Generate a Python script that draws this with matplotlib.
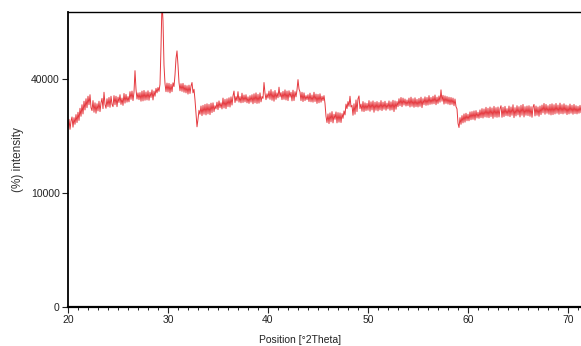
import matplotlib
matplotlib.use("Agg")
import matplotlib.pyplot as plt
from matplotlib.ticker import FixedLocator, MultipleLocator
import numpy as np

plt.rcParams['font.family'] = ['Liberation Sans', 'DejaVu Sans']

# XRD scan, 0.1 deg steps from 20.0 to 71.3 (counts)
two_theta_start = 20.0
two_theta_step = 0.1
counts = [
    24800, 27100, 24300, 26600, 27800, 24900, 27600, 25700, 28500, 26200,  # 20
    29200, 26800, 30400, 28000, 31500, 28700, 32600, 29900, 33400, 30600,  # 21
    34200, 31500, 34700, 30600, 29700, 32800, 29200, 32100, 28900, 31800,  # 22
    29600, 32600, 29400, 32100, 33500, 30300, 35500, 31600, 30400, 33400,  # 23
    30900, 33800, 30700, 34200, 31600, 30900, 34400, 31500, 34200, 30900,  # 24
    33900, 32200, 34700, 31600, 33600, 31300, 35100, 32000, 34800, 32300,  # 25
    34100, 32400, 35700, 33200, 35900, 32800, 35600, 43000, 36500, 33300,  # 26
    35300, 33100, 35400, 32600, 35900, 32700, 36100, 32900, 35600, 33000,  # 27
    36000, 32900, 35500, 33800, 36300, 33000, 35900, 34200, 36800, 35300,  # 28
    37100, 35800, 38200, 52000, 72000, 63000, 45000, 38400, 35700, 38600,  # 29
    35600, 38500, 35300, 38200, 35700, 38700, 37400, 41500, 47500, 50500,  # 30
    45000, 38800, 36000, 38400, 35800, 38500, 35500, 37900, 35300, 37700,  # 31
    34900, 37900, 35100, 37600, 38800, 35300, 36500, 33000, 29000, 25000,  # 32
    27200, 29800, 28600, 31100, 28200, 31300, 28600, 31600, 28400, 31800,  # 33
    28700, 31600, 28500, 32000, 29100, 32100, 29400, 31200, 30200, 32300,  # 34
    30000, 32700, 30600, 32100, 30200, 33600, 30500, 33200, 30300, 33400,  # 35
    30900, 33700, 30800, 34000, 31400, 34300, 35900, 32200, 34100, 32700,  # 36
    35700, 32300, 34100, 32100, 35200, 32200, 34600, 32400, 34700, 32100,  # 37
    34000, 31900, 34400, 32300, 34700, 31800, 35000, 32100, 35300, 31900,  # 38
    34800, 32000, 35300, 32400, 34100, 33500, 38800, 35200, 33100, 35000,  # 39
    33600, 35900, 33200, 36400, 32900, 35700, 32600, 36100, 33200, 35300,  # 40
    33700, 37200, 34000, 35400, 33100, 35800, 33200, 36300, 33000, 35900,  # 41
    32800, 36000, 33900, 35500, 32700, 36200, 32800, 35700, 34000, 36300,  # 42
    39800, 36600, 35600, 32800, 35500, 32500, 35300, 32800, 34400, 33100,  # 43
    34700, 32500, 35200, 32400, 34600, 32300, 35500, 32500, 34900, 31900,  # 44
    34800, 32100, 35000, 32300, 34200, 32800, 34400, 31900, 28000, 26200,  # 45
    28700, 25900, 29000, 26400, 29400, 26100, 28600, 27100, 29300, 26100,  # 46
    29100, 26300, 29000, 26200, 28800, 27400, 29600, 28400, 31700, 30300,  # 47
    32500, 31000, 34200, 30800, 31300, 28300, 31800, 28600, 33000, 29400,  # 48
    33400, 34300, 30300, 31700, 29500, 32500, 29400, 32100, 29700, 31900,  # 49
    29800, 32800, 29500, 32400, 29900, 32700, 29200, 32300, 29800, 32500,  # 50
    29600, 32200, 29900, 32800, 29700, 32300, 30100, 32600, 29800, 32000,  # 51
    30200, 32700, 29800, 32400, 29900, 32900, 29400, 32700, 30100, 32500,  # 52
    30900, 33400, 31200, 33800, 30900, 33600, 31400, 33300, 31100, 33000,  # 53
    31200, 33600, 30800, 33900, 31000, 33400, 30700, 33700, 30900, 33200,  # 54
    30800, 33500, 31000, 33900, 30600, 33400, 31500, 34000, 31300, 33800,  # 55
    31400, 34400, 31600, 33800, 31700, 34200, 31800, 34600, 31500, 33900,  # 56
    31900, 34300, 32300, 36300, 32600, 34500, 31700, 34300, 31900, 34100,  # 57
    31700, 33900, 31500, 33800, 31600, 33600, 31200, 33300, 30900, 30200,  # 58
    26000, 24800, 27600, 25700, 28200, 26100, 28700, 26300, 28900, 26700,  # 59
    28600, 26700, 29300, 27000, 29400, 27100, 29600, 26900, 29700, 27500,  # 60
    29200, 27400, 29900, 27600, 30300, 27500, 30200, 27800, 30700, 27700,  # 61
    30400, 27600, 30800, 27900, 30500, 27400, 31000, 27800, 30600, 27700,  # 62
    30800, 27800, 30300, 31200, 27700, 30700, 27900, 31000, 28200, 30300,  # 63
    28100, 31100, 27900, 30800, 28300, 31500, 27600, 30600, 28100, 31200,  # 64
    28400, 30900, 27800, 31300, 28300, 31600, 27800, 30900, 28300, 31100,  # 65
    28200, 31200, 28000, 30900, 27700, 30800, 31600, 28100, 31100, 28300,  # 66
    30800, 28000, 31100, 28500, 31400, 29000, 31900, 28600, 31600, 28900,  # 67
    31200, 28600, 31600, 28400, 31800, 28500, 31500, 28700, 31900, 28900,  # 68
    31400, 28600, 32000, 28800, 31500, 28700, 31800, 28900, 31400, 28500,  # 69
    31200, 28700, 31700, 28900, 31300, 28600, 31600, 28800, 31200, 28700,  # 70
    31000, 28900, 31300, 29100,  # 71
]
two_theta = two_theta_start + two_theta_step * np.arange(len(counts))

y_ticks = [0, 10000, 40000]
y_tick_labels = ['0', '10000', '40000']
x_ticks = [20, 30, 40, 50, 60, 70]

fig = plt.figure(figsize=(5.81, 3.46), dpi=100)
ax = fig.add_axes([68 / 581, 1 - 307 / 346, 1 - 68 / 581, (307 - 12) / 346])

ax.plot(two_theta, counts, color='#e5383e', linewidth=0.7)

# square-root intensity axis like the diffractometer software
ax.set_yscale('function', functions=(lambda v: np.sqrt(np.clip(v, 0, None)), np.square))
ax.set_ylim(0, 67000)
ax.set_xlim(20, 71.3)
ax.yaxis.set_major_locator(FixedLocator(y_ticks))
ax.set_yticklabels(y_tick_labels)
ax.yaxis.set_minor_locator(FixedLocator([]))
ax.set_xticks(x_ticks)
ax.xaxis.set_minor_locator(MultipleLocator(1))

ax.tick_params(axis='both', which='major', direction='out', length=4, width=0.8,
               labelsize=7.5, colors='#222222', pad=2)
ax.tick_params(axis='x', which='minor', direction='out', length=2, width=0.6)

ax.spines['right'].set_visible(False)
ax.spines['left'].set_linewidth(1.3)
ax.spines['bottom'].set_linewidth(1.6)
ax.spines['top'].set_linewidth(1.0)

ax.set_ylabel('(%) intensity', fontsize=8.5, color='#333333', labelpad=5)
ax.set_xlabel('Position [°2Theta]', fontsize=7.5, color='#222222')
ax.xaxis.set_label_coords((300 - 68) / 513, -0.095)

fig.savefig('out.png', dpi=100)
